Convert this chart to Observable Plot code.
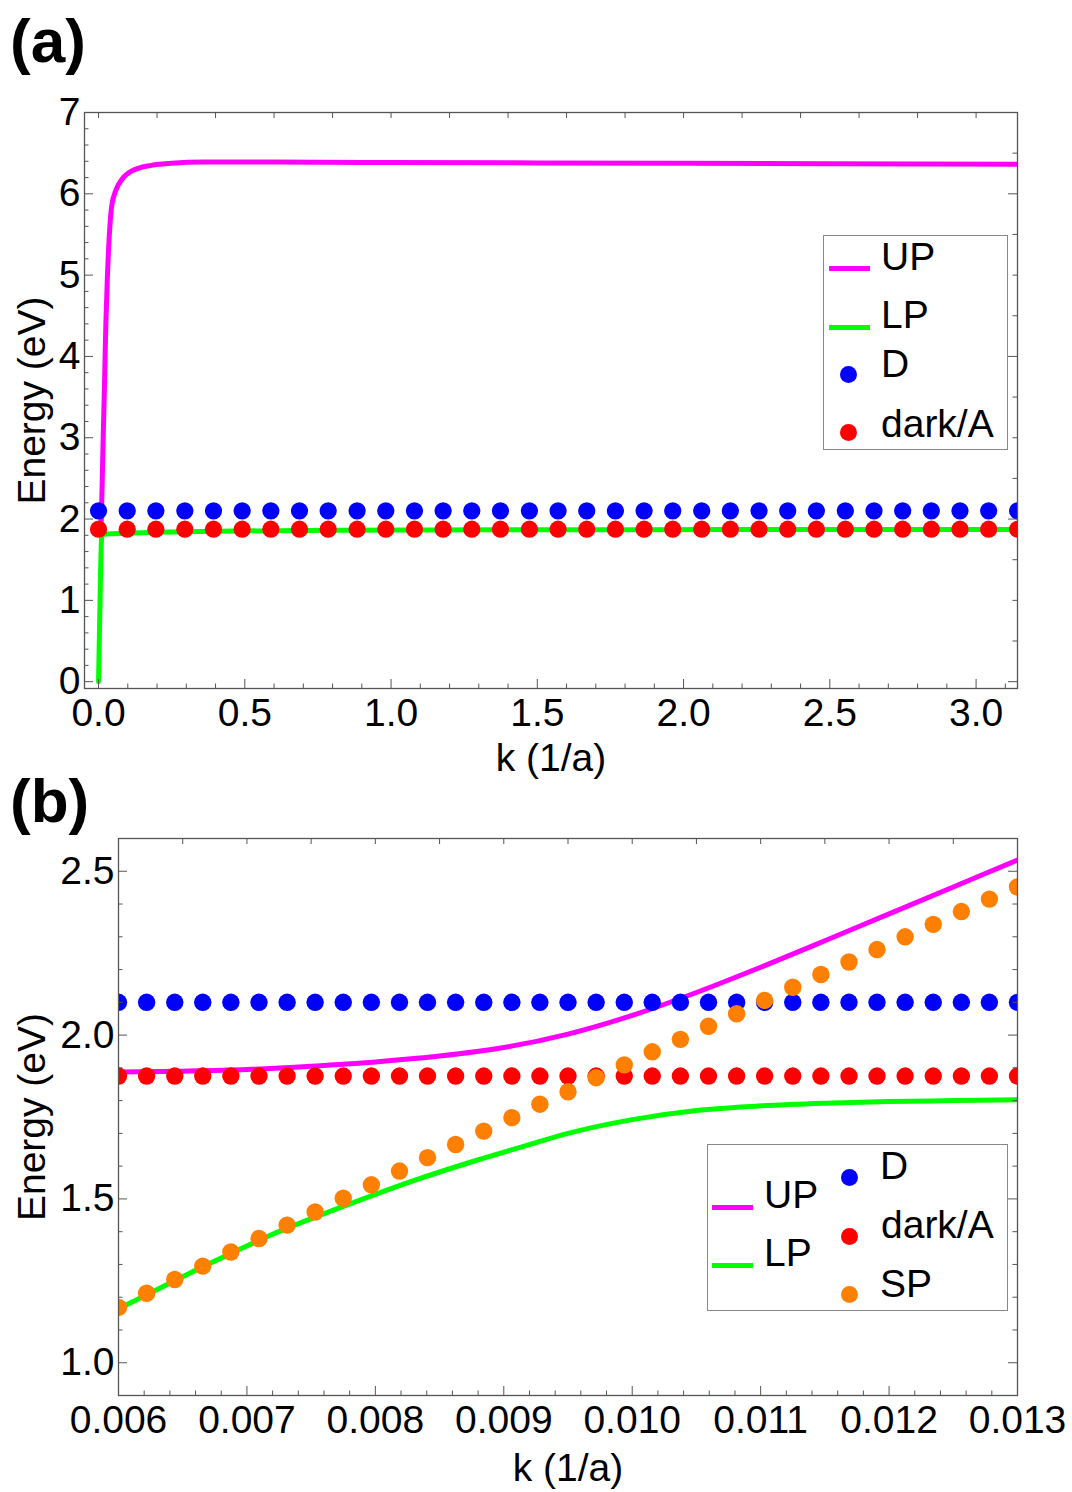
<!DOCTYPE html>
<html><head><meta charset="utf-8">
<script src="https://cdn.jsdelivr.net/npm/d3@7"></script>
<script src="https://cdn.jsdelivr.net/npm/@observablehq/plot@0.6"></script>
<style>
body{margin:0;background:#fff;width:1072px;height:1492px;position:relative;overflow:hidden;font-family:"Liberation Sans",Arial,sans-serif;}
.abs{position:absolute;}
.plab{position:absolute;font-weight:bold;font-size:62px;line-height:62px;color:#000;}
.lgbox{position:absolute;border:1px solid #888;box-sizing:border-box;background:#fff;}
.lt{position:absolute;font-size:39px;line-height:39px;white-space:nowrap;color:#000;}
.sw{position:absolute;height:5px;width:41px;}
.dt{position:absolute;width:17px;height:17px;border-radius:50%;}
</style></head><body>
<div id="pa" class="abs" style="left:0;top:0"></div>
<div id="pb" class="abs" style="left:0;top:790px"></div>
<div class="plab" style="left:10px;top:10px">(a)</div>
<div class="plab" style="left:10px;top:770px">(b)</div>
<div id="legends"></div>
<script>
// ---------------- data ----------------
// panel (a) dot positions, k (1/a)
const kDotsA = [0, 0.098, 0.196, 0.295, 0.393, 0.491, 0.589, 0.687, 0.785, 0.884, 0.982, 1.080, 1.178,
  1.276, 1.374, 1.473, 1.571, 1.669, 1.767, 1.865, 1.963, 2.062, 2.160, 2.258, 2.356, 2.454, 2.553,
  2.651, 2.749, 2.847, 2.945, 3.043, 3.142];
// panel (b) dot positions, k (1/a)
const kDotsB = [0.006000, 0.006219, 0.006438, 0.006656, 0.006875, 0.007094, 0.007313, 0.007531,
  0.007750, 0.007969, 0.008188, 0.008406, 0.008625, 0.008844, 0.009063, 0.009281, 0.009500,
  0.009719, 0.009938, 0.010156, 0.010375, 0.010594, 0.010813, 0.011031, 0.011250, 0.011469,
  0.011688, 0.011906, 0.012125, 0.012344, 0.012563, 0.012781, 0.013000];
const energyD = 2.1;      // D (eV)
const energyDark = 1.875; // dark/A (eV)
const energySP = [1.169, 1.212, 1.254, 1.295, 1.338, 1.379, 1.420, 1.460, 1.502, 1.543, 1.585,
  1.626, 1.666, 1.707, 1.748, 1.789, 1.827, 1.870, 1.909, 1.949, 1.987, 2.027, 2.065, 2.106,
  2.146, 2.185, 2.223, 2.261, 2.300, 2.338, 2.377, 2.415, 2.452];
// UP branch
const kUP = [0, 0.003, 0.006, 0.0065, 0.007, 0.0075, 0.008, 0.0085, 0.009, 0.0095, 0.010, 0.0105,
  0.011, 0.0115, 0.012, 0.0125, 0.013, 0.0135, 0.016, 0.020, 0.025, 0.030, 0.037, 0.045, 0.060,
  0.080, 0.10, 0.14, 0.18, 0.25, 0.36, 0.6, 1.0, 1.5, 2.0, 2.5, 3.1416];
const eUP = [1.880, 1.882, 1.887, 1.890, 1.895, 1.905, 1.918, 1.936, 1.962, 2.003, 2.060, 2.130,
  2.207, 2.288, 2.370, 2.452, 2.534, 2.615, 3.02, 3.6, 4.4, 4.95, 5.5, 5.85, 6.05, 6.18, 6.25,
  6.32, 6.35, 6.375, 6.39, 6.39, 6.385, 6.38, 6.375, 6.37, 6.365];
// LP branch
const kLP = [0, 0.002, 0.004, 0.006, 0.0062, 0.0067, 0.0072, 0.00775, 0.00827, 0.00879, 0.00921,
  0.0095, 0.0100, 0.0105, 0.0110, 0.0115, 0.0120, 0.0125, 0.013, 0.016, 0.02, 0.03, 0.05, 0.1,
  0.2, 0.4, 0.8, 1.5, 2.2, 3.1416];
const eLP = [0, 0.39, 0.78, 1.165, 1.204, 1.301, 1.392, 1.477, 1.552, 1.618, 1.667, 1.700, 1.742,
  1.770, 1.784, 1.792, 1.797, 1.800, 1.803, 1.808, 1.812, 1.816, 1.82, 1.828, 1.837, 1.85, 1.862,
  1.868, 1.871, 1.873];

// ticks
const xTicksA = [0, 0.5, 1.0, 1.5, 2.0, 2.5, 3.0];
const yTicksA = [0, 1, 2, 3, 4, 5, 6, 7];
const xTicksB = [0.006, 0.007, 0.008, 0.009, 0.010, 0.011, 0.012, 0.013];
const yTicksB = [1.0, 1.5, 2.0, 2.5];

const colUP = "#ff00ff", colLP = "#00ff00", colD = "#0000ff", colDark = "#ff0000", colSP = "#ff8000";
const legendNames = ["UP", "LP", "D", "dark/A", "SP"];

// --------------- build ---------------
const UP = kUP.map((k, i) => ({k, e: eUP[i]}));
const LP = kLP.map((k, i) => ({k, e: eLP[i]}));
const SP = kDotsB.map((k, i) => ({k, e: energySP[i]}));
const FONT = "'Liberation Sans', Arial, sans-serif";
const TICK = "#555";

function near(v, arr) { return arr.some(a => Math.abs(a - v) < 1e-9); }

function tickMarks(xd, yd, fw, fh, spec) {
  const lx = L => L * (xd[1] - xd[0]) / fw;
  const ly = L => L * (yd[1] - yd[0]) / fh;
  const m = [];
  m.push(Plot.ruleX(spec.bottomMajor, {x: d => d, y1: () => yd[0], y2: () => yd[0] + ly(9), stroke: TICK}));
  m.push(Plot.ruleX(spec.bottomMinor, {x: d => d, y1: () => yd[0], y2: () => yd[0] + ly(4.5), stroke: TICK}));
  m.push(Plot.ruleX(spec.top, {x: d => d, y1: () => yd[1] - ly(6), y2: () => yd[1], stroke: TICK}));
  m.push(Plot.ruleY(spec.leftMajor, {y: d => d, x1: () => xd[0], x2: () => xd[0] + lx(9), stroke: TICK}));
  m.push(Plot.ruleY(spec.leftMinor, {y: d => d, x1: () => xd[0], x2: () => xd[0] + lx(4.5), stroke: TICK}));
  m.push(Plot.ruleY(spec.rightMajor, {y: d => d, x1: () => xd[1] - lx(9), x2: () => xd[1], stroke: TICK}));
  m.push(Plot.ruleY(spec.rightMinor, {y: d => d, x1: () => xd[1] - lx(4.5), x2: () => xd[1], stroke: TICK}));
  return m;
}

// ---- panel (a)
{
  const W = 1072, H = 790, mL = 84, mR = 55, mT = 112, mB = 102;
  const xd = [-0.048, 3.1416], yd = [-0.084, 7];
  const spec = {
    bottomMajor: xTicksA,
    bottomMinor: d3.range(0, 3.15, 0.1).filter(v => !near(v, xTicksA)),
    top: d3.range(0, 3.05, 0.2),
    leftMajor: yTicksA,
    leftMinor: d3.range(0, 7.01, 0.2).filter(v => !near(v, yTicksA)),
    rightMajor: [0, 2, 4, 6],
    rightMinor: d3.range(0, 7.01, 0.5).filter(v => !near(v, [0, 2, 4, 6]))
  };
  const p = Plot.plot({
    width: W, height: H, marginLeft: mL, marginRight: mR, marginTop: mT, marginBottom: mB,
    style: {fontFamily: FONT, fontSize: "39px", background: "transparent", color: "#000"},
    x: {domain: xd}, y: {domain: yd},
    marks: [
      Plot.line(UP, {x: "k", y: "e", stroke: colUP, strokeWidth: 5, curve: "monotone-x", clip: true}),
      Plot.line(LP, {x: "k", y: "e", stroke: colLP, strokeWidth: 5, curve: "monotone-x", clip: true}),
      Plot.dot(kDotsA, {x: d => d, y: () => energyD, r: 8.6, fill: colD, clip: true}),
      Plot.dot(kDotsA, {x: d => d, y: () => energyDark, r: 8.6, fill: colDark, clip: true}),
      ...tickMarks(xd, yd, W - mL - mR, H - mT - mB, spec),
      Plot.frame({stroke: TICK, strokeWidth: 1.3}),
      Plot.axisX({ticks: xTicksA, tickSize: 0, tickPadding: 10, tickFormat: d => d.toFixed(1), label: null, fontSize: 39}),
      Plot.axisY({ticks: yTicksA, tickSize: 0, tickPadding: 4, tickFormat: d => String(d), label: null, fontSize: 39}),
      Plot.text(["Energy (eV)"], {text: d => d, frameAnchor: "left", dx: -52, rotate: -90, textAnchor: "middle", lineAnchor: "middle", fontSize: 39}),
      Plot.text(["k (1/a)"], {text: d => d, frameAnchor: "bottom", dy: 70, textAnchor: "middle", lineAnchor: "middle", fontSize: 39})
    ]
  });
  document.getElementById("pa").appendChild(p);
}

// ---- panel (b)
{
  const W = 1072, H = 702, mL = 118, mR = 55, mT = 48, mB = 97;
  const xd = [0.006, 0.013], yd = [0.9, 2.6];
  const spec = {
    bottomMajor: xTicksB,
    bottomMinor: d3.range(0.006, 0.01301, 0.0002).filter(v => !near(v, xTicksB)),
    top: d3.range(0.006, 0.01301, 0.0005),
    leftMajor: yTicksB,
    leftMinor: d3.range(1.0, 2.61, 0.1).filter(v => !near(v, yTicksB)),
    rightMajor: yTicksB,
    rightMinor: d3.range(1.0, 2.61, 0.1).filter(v => !near(v, yTicksB))
  };
  const p = Plot.plot({
    width: W, height: H, marginLeft: mL, marginRight: mR, marginTop: mT, marginBottom: mB,
    style: {fontFamily: FONT, fontSize: "39px", background: "transparent", color: "#000"},
    x: {domain: xd}, y: {domain: yd},
    marks: [
      Plot.line(UP, {x: "k", y: "e", stroke: colUP, strokeWidth: 5, curve: "monotone-x", clip: true}),
      Plot.line(LP, {x: "k", y: "e", stroke: colLP, strokeWidth: 5, curve: "monotone-x", clip: true}),
      Plot.dot(kDotsB, {x: d => d, y: () => energyD, r: 8.7, fill: colD, clip: true}),
      Plot.dot(kDotsB, {x: d => d, y: () => energyDark, r: 8.7, fill: colDark, clip: true}),
      Plot.dot(SP, {x: "k", y: "e", r: 8.7, fill: colSP, clip: true}),
      ...tickMarks(xd, yd, W - mL - mR, H - mT - mB, spec),
      Plot.frame({stroke: TICK, strokeWidth: 1.3}),
      Plot.axisX({ticks: xTicksB, tickSize: 0, tickPadding: 10, tickFormat: d => d.toFixed(3), label: null, fontSize: 39}),
      Plot.axisY({ticks: yTicksB, tickSize: 0, tickPadding: 4, tickFormat: d => d.toFixed(1), label: null, fontSize: 39}),
      Plot.text(["Energy (eV)"], {text: d => d, frameAnchor: "left", dx: -86, rotate: -90, textAnchor: "middle", lineAnchor: "middle", fontSize: 39}),
      Plot.text(["k (1/a)"], {text: d => d, frameAnchor: "bottom", dy: 73, textAnchor: "middle", lineAnchor: "middle", fontSize: 39})
    ]
  });
  document.getElementById("pb").appendChild(p);
}

// ---- legends (HTML overlay)
function legend(box, items) {
  const host = document.getElementById("legends");
  const b = document.createElement("div");
  b.className = "lgbox";
  Object.assign(b.style, {left: box[0] + "px", top: box[1] + "px", width: box[2] + "px", height: box[3] + "px"});
  host.appendChild(b);
  for (const it of items) {
    const s = document.createElement("div");
    if (it.type === "line") {
      s.className = "sw";
      Object.assign(s.style, {left: it.sx + "px", top: (it.sy - 2.5) + "px", background: it.color});
    } else {
      s.className = "dt";
      Object.assign(s.style, {left: (it.sx - 8.5) + "px", top: (it.sy - 8.5) + "px", background: it.color});
    }
    host.appendChild(s);
    const t = document.createElement("div");
    t.className = "lt";
    t.textContent = it.label;
    Object.assign(t.style, {left: it.tx + "px", top: (it.ty - 19) + "px"});
    host.appendChild(t);
  }
}
legend([823, 235, 185, 215], [
  {type: "line", color: colUP, label: legendNames[0], sx: 829, sy: 268, tx: 881, ty: 256},
  {type: "line", color: colLP, label: legendNames[1], sx: 829, sy: 327, tx: 881, ty: 314},
  {type: "dot", color: colD, label: legendNames[2], sx: 848.5, sy: 374, tx: 881, ty: 363},
  {type: "dot", color: colDark, label: legendNames[3], sx: 848.5, sy: 432, tx: 881, ty: 423}
]);
legend([707, 1144, 301, 167], [
  {type: "line", color: colUP, label: legendNames[0], sx: 712, sy: 1207, tx: 764, ty: 1194},
  {type: "line", color: colLP, label: legendNames[1], sx: 712, sy: 1265, tx: 764, ty: 1252},
  {type: "dot", color: colD, label: legendNames[2], sx: 849.3, sy: 1177, tx: 880, ty: 1165},
  {type: "dot", color: colDark, label: legendNames[3], sx: 849.3, sy: 1236, tx: 881, ty: 1224},
  {type: "dot", color: colSP, label: legendNames[4], sx: 849.3, sy: 1294, tx: 880, ty: 1283}
]);
</script>
</body></html>
